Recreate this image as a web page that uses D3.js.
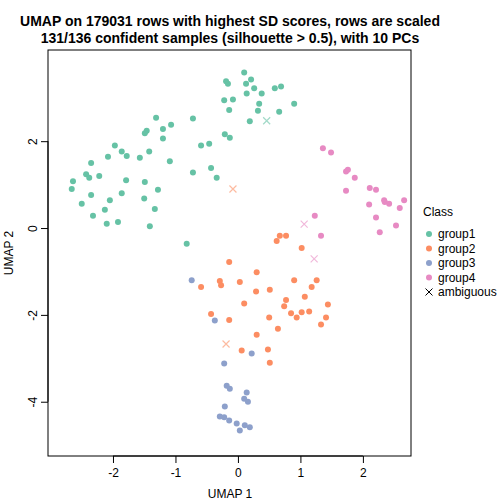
<!DOCTYPE html><html><head><meta charset="utf-8"><script src="https://cdn.jsdelivr.net/npm/d3@7"></script>
<style>body{margin:0;background:#fff}text{font-family:"Liberation Sans",Arial,sans-serif}</style></head><body><svg id="c" width="504" height="504"></svg><script>
const classes=["group1","group2","group3","group4"];
const colors=["#66C2A5","#FC8D62","#8DA0CB","#E78AC3"];
const g1x=[0.10,-0.19,-0.16,0.13,0.14,-0.22,-0.08,-0.14,-1.31,-0.72,-1.20,-1.07,-1.46,-1.49,-1.20,-0.21,-0.13,-0.59,-0.46,-1.97,-1.86,-2.08,-1.78,-1.57,-1.42,-1.09,-2.35,-2.43,-2.38,-2.22,-2.64,-2.66,-1.79,-1.49,-0.72,-0.43,-0.34,-2.35,-1.86,-1.28,-2.05,-1.50,-2.50,-2.13,-1.33,-2.32,-2.10,-1.92,-1.41,-0.82,0.21,0.26,0.59,0.69,0.38,0.34,0.90,0.32,0.66,0.19];
const g1y=[3.58,3.38,3.32,3.32,3.10,2.94,2.96,2.72,2.54,2.52,2.28,2.38,2.24,2.18,2.06,2.16,2.08,1.90,1.94,1.90,1.76,1.64,1.66,1.62,1.76,1.54,1.50,1.24,1.16,1.20,1.08,0.90,1.10,1.06,1.28,1.38,1.16,0.76,0.80,0.88,0.64,0.68,0.56,0.42,0.44,0.28,0.10,0.14,0.04,-0.36,3.42,3.22,3.22,3.26,3.10,2.86,2.86,2.70,2.68,2.46];
const g2x=[0.62,0.67,0.77,1.02,-0.14,0.30,-0.29,-0.27,0.03,-0.59,0.90,1.26,1.18,0.29,0.51,1.07,0.10,0.77,0.74,0.85,0.94,1.02,1.14,1.44,1.41,1.33,-0.43,-0.14,0.50,0.64,0.30,0.06,0.48,0.51];
const g2y=[-0.30,-0.18,-0.18,-0.46,-0.78,-1.02,-1.22,-1.32,-1.24,-1.36,-1.20,-1.20,-1.36,-1.46,-1.42,-1.58,-1.74,-1.66,-1.80,-1.96,-2.06,-1.94,-1.92,-1.76,-2.06,-2.22,-1.98,-2.12,-2.06,-2.32,-2.46,-2.82,-2.80,-3.10];
const g3x=[-0.74,-0.37,0.22,-0.22,-0.18,-0.13,0.14,0.10,0.16,-0.21,-0.29,-0.22,-0.14,-0.02,0.11,0.19,0.03];
const g3y=[-1.20,-2.13,-2.89,-3.12,-3.63,-3.70,-3.79,-3.93,-4.00,-4.11,-4.34,-4.36,-4.43,-4.50,-4.54,-4.59,-4.66];
const g4x=[1.36,1.49,1.73,1.76,1.87,1.73,2.11,2.21,2.34,2.35,2.42,2.66,2.59,2.10,2.21,2.53,2.27,1.23,1.33];
const g4y=[1.84,1.74,1.30,1.34,1.16,0.86,0.92,0.88,0.64,0.60,0.56,0.64,0.46,0.54,0.24,0.06,-0.10,0.28,-0.18];
const ambX=[0.46,-0.08,-0.19,1.06,1.22];
const ambY=[2.47,0.90,-2.67,0.09,-0.71];
const ambClass=[0,1,1,3,3];
const xTicks=[-2,-1,0,1,2], yTicks=[-4,-2,0,2];
const svg=d3.select("#c");
const L=48,R=411,T=50,B=456;
const x=d3.scaleLinear().domain([-3.04,2.77]).range([L,R]);
const y=d3.scaleLinear().domain([4.10,-5.25]).range([T,B]);
const fmt=d=>String(d);
svg.append("rect").attr("x",L).attr("y",T).attr("width",R-L).attr("height",B-T).attr("fill","none").attr("stroke","#000");
const xa=svg.append("g").attr("transform",`translate(0,${B})`).call(d3.axisBottom(x).tickValues(xTicks).tickSize(7).tickPadding(5).tickFormat(fmt));
const ya=svg.append("g").attr("transform",`translate(${L},0)`).call(d3.axisLeft(y).tickValues(yTicks).tickSize(7).tickPadding(5).tickFormat(fmt));
xa.select(".domain").attr("d",`M${x(-2)},0H${x(2)}`);
ya.select(".domain").attr("d",`M0,${y(-4)}V${y(2)}`);
[xa,ya].forEach(a=>a.selectAll("text").attr("font-size",12).attr("fill","#000").attr("font-family","Liberation Sans, Arial"));
ya.selectAll(".tick text").each(function(){d3.select(this).attr("text-anchor","middle").attr("transform","translate(-15,0) rotate(-90)").attr("y",0).attr("dy","0.35em").attr("x",0)});
const groups=[[g1x,g1y],[g2x,g2y],[g3x,g3y],[g4x,g4y]];
groups.forEach(([gx,gy],i)=>{svg.append("g").selectAll("circle").data(gx.map((v,j)=>[v,gy[j]])).join("circle").attr("cx",d=>x(d[0])).attr("cy",d=>y(d[1])).attr("r",3).attr("fill",colors[i]);});
const lighten=c=>d3.interpolateRgb(c,"#fff")(0.4);
ambX.forEach((v,j)=>{const cx=x(v),cy=y(ambY[j]),s=3.5;svg.append("path").attr("d",`M${cx-s},${cy-s}L${cx+s},${cy+s}M${cx-s},${cy+s}L${cx+s},${cy-s}`).attr("stroke",lighten(colors[ambClass[j]])).attr("stroke-width",1.2);});
svg.append("text").attr("x",230).attr("y",26).attr("text-anchor","middle").attr("font-size",14).attr("font-weight","bold").text("UMAP on 179031 rows with highest SD scores, rows are scaled");
svg.append("text").attr("x",230).attr("y",43).attr("text-anchor","middle").attr("font-size",14).attr("font-weight","bold").text("131/136 confident samples (silhouette > 0.5), with 10 PCs");
svg.append("text").attr("x",230).attr("y",498).attr("text-anchor","middle").attr("font-size",12).text("UMAP 1");
svg.append("text").attr("transform","translate(13,253) rotate(-90)").attr("text-anchor","middle").attr("font-size",12).text("UMAP 2");
const lg=svg.append("g");
lg.append("text").attr("x",423).attr("y",216).attr("font-size",12).text("Class");
classes.concat(["ambiguous"]).forEach((c,i)=>{const yy=234+i*14.5;
 if(i<4)lg.append("circle").attr("cx",429).attr("cy",yy).attr("r",3).attr("fill",colors[i]);
 else lg.append("path").attr("d",`M${425.5},${yy-3.5}L${432.5},${yy+3.5}M${425.5},${yy+3.5}L${432.5},${yy-3.5}`).attr("stroke","#000").attr("stroke-width",1);
 lg.append("text").attr("x",438).attr("y",yy+4).attr("font-size",12).text(c);});
</script></body></html>
